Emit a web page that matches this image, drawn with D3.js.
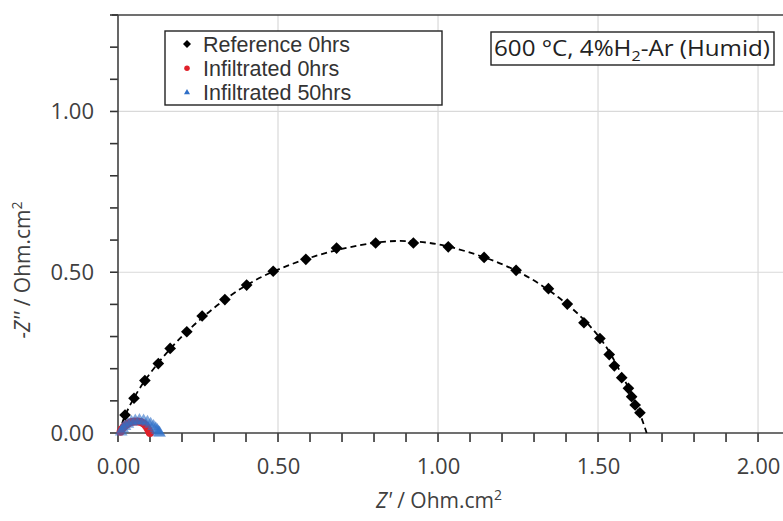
<!DOCTYPE html>
<html lang="en">
<meta charset="utf-8">
<style>
    html, body { margin: 0; padding: 0; background: #fff; }
    svg { display: block; font-family: "Liberation Sans", Arial, sans-serif; }
</style>
<body>
<svg id="svg" width="783" height="521"></svg>
<script src="https://cdn.jsdelivr.net/npm/d3@7"></script>
<script>
    // Reference 0hrs (diamonds)
    var refZre = [0.022, 0.050, 0.084, 0.126, 0.163, 0.215, 0.263, 0.334, 0.402, 0.485, 0.587, 0.683,
                  0.805, 0.923, 1.032, 1.144, 1.244, 1.345, 1.404, 1.456, 1.506, 1.535, 1.551, 1.574,
                  1.595, 1.605, 1.616, 1.631];
    var refZim = [0.056, 0.108, 0.163, 0.216, 0.263, 0.315, 0.364, 0.415, 0.460, 0.503, 0.540, 0.575,
                  0.591, 0.591, 0.579, 0.546, 0.506, 0.449, 0.401, 0.343, 0.294, 0.244, 0.209, 0.172,
                  0.139, 0.113, 0.087, 0.063];
    // fitted curve (dashed)
    var fitZre = [0.004, 0.022, 0.084, 0.215, 0.402, 0.600, 0.805, 0.920, 1.040, 1.244, 1.404, 1.510, 1.580, 1.625, 1.652];
    var fitZim = [0.000, 0.054, 0.163, 0.315, 0.460, 0.545, 0.592, 0.596, 0.578, 0.505, 0.400, 0.290, 0.170, 0.075, 0.000];
    // Infiltrated 0hrs (circles)
    var inf0Zre = [0.008, 0.012, 0.018, 0.025, 0.033, 0.042, 0.052, 0.062, 0.071, 0.079, 0.086, 0.091, 0.095, 0.098, 0.100];
    var inf0Zim = [0.004, 0.012, 0.019, 0.025, 0.030, 0.034, 0.036, 0.036, 0.034, 0.030, 0.024, 0.017, 0.010, 0.004, 0.000];
    // Infiltrated 50hrs (triangles)
    var inf50Zre = [0.010, 0.015, 0.022, 0.031, 0.042, 0.054, 0.067, 0.080, 0.092, 0.102, 0.111, 0.118, 0.123, 0.127, 0.130];
    var inf50Zim = [0.004, 0.013, 0.021, 0.028, 0.034, 0.038, 0.039, 0.038, 0.034, 0.028, 0.021, 0.014, 0.008, 0.003, 0.000];

    var xTicks = [0, 0.5, 1.0, 1.5, 2.0];
    var yTicks = [0, 0.5, 1.0];
    var xMinor = d3.range(0, 21).map(i => i / 10);
    var yMinor = d3.range(0, 14).map(i => i / 10);
    var legendNames = ["Reference 0hrs", "Infiltrated 0hrs", "Infiltrated 50hrs"];

    var svg = d3.select("svg"),
        margin = {top: 15, right: 0, bottom: 88, left: 118},
        width = +svg.attr("width"),
        height = +svg.attr("height");

    var x = d3.scaleLinear().domain([0, 2.078]).range([margin.left, width - margin.right]);
    var y = d3.scaleLinear().domain([0, 1.3]).range([height - margin.bottom, margin.top]);

    var zip = (a, b) => a.map((v, i) => [v, b[i]]);

    // gridlines
    svg.append("g").selectAll("line").data(xTicks.slice(1)).enter().append("line")
        .attr("x1", d => x(d)).attr("x2", d => x(d))
        .attr("y1", y(0)).attr("y2", y(1.3))
        .attr("stroke", "#d9d9d9").attr("stroke-width", 1.2);
    svg.append("g").selectAll("line").data(yTicks.slice(1)).enter().append("line")
        .attr("x1", x(0)).attr("x2", width)
        .attr("y1", d => y(d)).attr("y2", d => y(d))
        .attr("stroke", "#d9d9d9").attr("stroke-width", 1.2);

    // top border
    svg.append("line")
        .attr("x1", x(0) - 6).attr("x2", width)
        .attr("y1", y(1.3)).attr("y2", y(1.3))
        .attr("stroke", "#404040").attr("stroke-width", 1.3);

    // axes (labels from d3 axis, tick marks drawn separately)
    var xAxis = d3.axisBottom(x).tickValues(xTicks).tickSize(0).tickFormat(d3.format(".2f"));
    var yAxis = d3.axisLeft(y).tickValues(yTicks).tickSize(0).tickFormat(d3.format(".2f"));

    var gx = svg.append("g").attr("transform", `translate(0,${y(0)})`).call(xAxis);
    var gy = svg.append("g").attr("transform", `translate(${x(0)},0)`).call(yAxis);
    [gx, gy].forEach(g => {
        g.select(".domain").remove();
        g.selectAll(".tick text").attr("font-size", 22).attr("font-family", "Open Sans, sans-serif")
            .attr("fill", "#404040");
    });
    gx.selectAll(".tick text").attr("y", 25);
    gy.selectAll(".tick text").attr("x", -24);

    var ticks = svg.append("g").attr("stroke", "#333").attr("stroke-width", 1.6);
    ticks.selectAll("line.xt").data(xMinor).enter().append("line").attr("class", "xt")
        .attr("x1", d => x(d)).attr("x2", d => x(d))
        .attr("y1", y(0)).attr("y2", y(0) + 9);
    ticks.selectAll("line.yt").data(yMinor).enter().append("line").attr("class", "yt")
        .attr("x1", x(0) - 8).attr("x2", x(0))
        .attr("y1", d => y(d)).attr("y2", d => y(d));
    svg.append("line").attr("x1", x(0)).attr("x2", x(0)).attr("y1", y(0)).attr("y2", y(1.3))
        .attr("stroke", "#404040").attr("stroke-width", 1.6);
    svg.append("line").attr("x1", x(0)).attr("x2", width).attr("y1", y(0)).attr("y2", y(0))
        .attr("stroke", "#404040").attr("stroke-width", 1.6);

    // fitted dashed line
    var line = d3.line().x(d => x(d[0])).y(d => y(d[1])).curve(d3.curveCatmullRom);
    svg.append("path").datum(zip(fitZre, fitZim))
        .attr("d", line)
        .attr("fill", "none").attr("stroke", "#000").attr("stroke-width", 1.8)
        .attr("stroke-dasharray", "6,4");

    // infiltrated series
    svg.append("g").selectAll("circle").data(zip(inf0Zre, inf0Zim)).enter().append("circle")
        .attr("cx", d => x(d[0])).attr("cy", d => y(d[1])).attr("r", 4)
        .attr("fill", "#e0202a");
    svg.append("g").selectAll("path").data(zip(inf50Zre, inf50Zim)).enter().append("path")
        .attr("d", d3.symbol().type(d3.symbolTriangle).size(70))
        .attr("transform", d => `translate(${x(d[0])},${y(d[1])})`)
        .attr("fill", "#2f6fc8").attr("opacity", 0.6);

    // reference diamonds
    svg.append("g").selectAll("path").data(zip(refZre, refZim)).enter().append("path")
        .attr("d", d3.symbol().type(d3.symbolSquare).size(68))
        .attr("transform", d => `translate(${x(d[0])},${y(d[1])}) rotate(45)`)
        .attr("fill", "#000");

    // legend
    var lg = svg.append("g");
    lg.append("rect").attr("x", 165).attr("y", 31).attr("width", 277).attr("height", 74)
        .attr("fill", "#fff").attr("stroke", "#222").attr("stroke-width", 1.4);
    var items = lg.selectAll("g.item").data(legendNames).enter().append("g")
        .attr("transform", (d, i) => `translate(187,${44 + i * 24.3})`);
    items.append("path")
        .attr("d", (d, i) => d3.symbol().type([d3.symbolSquare, d3.symbolCircle, d3.symbolTriangle][i]).size([32, 24, 16][i])())
        .attr("transform", (d, i) => i === 0 ? "rotate(45)" : "")
        .attr("fill", (d, i) => ["#000", "#e0202a", "#2f6fc8"][i]);
    items.append("text").attr("x", 16).attr("dy", "0.36em")
        .attr("font-size", 21.5).attr("fill", "#333").text(d => d);

    // condition annotation
    svg.append("rect").attr("x", 491).attr("y", 32).attr("width", 283).attr("height", 33)
        .attr("fill", "#fff").attr("stroke", "#222").attr("stroke-width", 1.4);
    var ann = svg.append("text").attr("x", 632).attr("y", 56).attr("text-anchor", "middle")
        .attr("font-family", "Open Sans, sans-serif").attr("font-size", 21).attr("fill", "#222")
        .attr("textLength", 276).attr("lengthAdjust", "spacingAndGlyphs");
    ann.append("tspan").text("600 °C, 4%H");
    ann.append("tspan").attr("font-size", 14).attr("dy", 5).text("2");
    ann.append("tspan").attr("dy", -5).text("-Ar (Humid)");

    // axis titles
    var xt = svg.append("text").attr("x", 439).attr("y", 508).attr("text-anchor", "middle")
        .attr("font-family", "Open Sans, sans-serif").attr("font-size", 21).attr("fill", "#404040");
    xt.append("tspan").attr("font-style", "italic").text("Z'");
    xt.append("tspan").text(" / Ohm.cm");
    xt.append("tspan").attr("font-size", 14).attr("dy", -8).text("2");

    var yt = svg.append("text").attr("transform", "translate(30,270) rotate(-90)").attr("text-anchor", "middle")
        .attr("font-family", "Open Sans, sans-serif").attr("font-size", 21).attr("fill", "#404040");
    yt.append("tspan").attr("font-style", "italic").text("-Z''");
    yt.append("tspan").text(" / Ohm.cm");
    yt.append("tspan").attr("font-size", 14).attr("dy", -8).text("2");
</script>
</body>
</html>
